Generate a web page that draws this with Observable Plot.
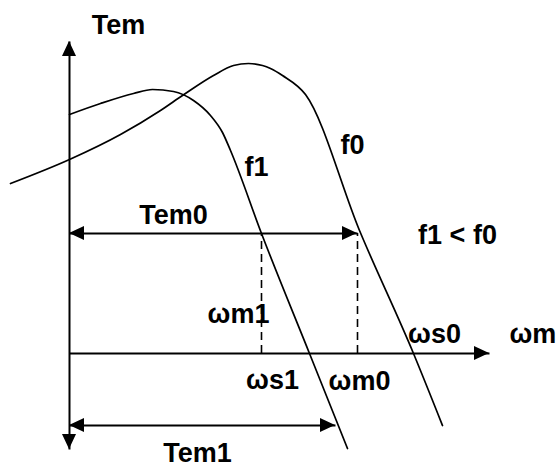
<!DOCTYPE html>
<html>
<head>
<meta charset="utf-8">
<script src="https://cdn.jsdelivr.net/npm/d3@7"></script>
<script src="https://cdn.jsdelivr.net/npm/@observablehq/plot@0.6"></script>
<style>
  html, body { margin: 0; padding: 0; background: #fff; }
  #chart svg { display: block; }
</style>
</head>
<body>
<div id="chart"></div>
<script>
// Torque–speed characteristics of an induction motor at two supply frequencies (f1 < f0).
// Speed ωm on the horizontal axis, torque Tem on the vertical axis (arbitrary units).

// Characteristic at frequency f1
const f1Omega  = [0, 7.75, 16, 20.75, 26, 31, 35.25, 38.25, 40.25, 48, 60, 69.5];
const f1Torque = [59.75, 62.5, 65, 66, 65.5, 63.25, 59.5, 55.25, 50.75, 30, 0, -23.75];

// Characteristic at frequency f0
const f0Omega  = [-14.75, 0, 12.75, 22.75, 28.25, 36, 41, 44.75, 48.25, 50.25, 53.25, 59, 72.5, 86, 93.25];
const f0Torque = [42.5, 48.5, 54.75, 60.75, 64.5, 69.5, 72, 72.5, 72, 71.25, 69.5, 64.75, 30.75, 0, -18];

// Operating quantities
const tem0 = 30;      // load torque
const tem1 = -18;     // braking torque after the frequency step
const omegaM1 = 48;   // speed on f1 at Tem0
const omegaM0 = 72;   // speed on f0 at Tem0
const tem1End = 66.5; // f1 characteristic at Tem1

// Axis extents
const omegaAxisEnd = 105;
const temAxisTop = 78;
const temAxisBottom = -24;

// Labels: text, anchor speed, anchor torque (baseline)
const labelText  = ["Tem", "Tem0", "f1", "f0", "f1 < f0", "ωm1", "ωs0", "ωs1", "ωm0", "Tem1"];
const labelOmega = [12.25, 26, 46.75, 70.75, 97, 42.25, 91.25, 50.75, 72.5, 32];
const labelTorque = [80, 32.5, 44.5, 50, 27.5, 7.75, 2.75, -8.75, -9, -27];
const axisLabel = {text: "ωm", omega: 110, torque: 2.75};

const f1 = f1Omega.map((w, i) => ({omega: w, tem: f1Torque[i]}));
const f0 = f0Omega.map((w, i) => ({omega: w, tem: f0Torque[i]}));
const labels = labelText.map((t, i) => ({text: t, omega: labelOmega[i], tem: labelTorque[i]}));

// Straight segments: axes and dimension arrows
const segments = [
  {x1: 0, y1: temAxisBottom, x2: 0, y2: temAxisTop},
  {x1: 0, y1: 0, x2: omegaAxisEnd, y2: 0},
  {x1: 0, y1: tem0, x2: omegaM0, y2: tem0},
  {x1: 0, y1: tem1, x2: tem1End, y2: tem1}
];

// Filled arrowheads (tip position and direction in degrees, 0 = right)
const heads = [
  {x: 0, y: temAxisTop, dir: -90},
  {x: 0, y: temAxisBottom, dir: 90},
  {x: omegaAxisEnd, y: 0, dir: 0},
  {x: 0, y: tem0, dir: 180},
  {x: omegaM0, y: tem0, dir: 0},
  {x: 0, y: tem1, dir: 180},
  {x: tem1End, y: tem1, dir: 0}
];

function arrowHeads(list) {
  return (index, scales) => {
    const g = d3.create("svg:g").attr("fill", "#000");
    for (const h of list) {
      g.append("path")
        .attr("d", "M0,0L-15,-7L-15,7Z")
        .attr("transform", `translate(${scales.x(h.x)},${scales.y(h.y)}) rotate(${h.dir})`);
    }
    return g.node();
  };
}

const font = "Liberation Sans, Arial, sans-serif";

const chart = Plot.plot({
  width: 557,
  height: 468,
  margin: 0,
  x: {domain: [-17.25, 122], axis: null},
  y: {domain: [-28.75, 88.25], axis: null},
  style: {background: "#fff", color: "#000", fontFamily: font},
  marks: [
    Plot.link(segments, {x1: "x1", y1: "y1", x2: "x2", y2: "y2", stroke: "#000", strokeWidth: 2}),
    Plot.ruleX([omegaM1, omegaM0], {y1: 0, y2: tem0, stroke: "#000", strokeWidth: 1.6, strokeDasharray: "8,5"}),
    Plot.line(f1, {x: "omega", y: "tem", curve: "monotone-x", stroke: "#000", strokeWidth: 1.7}),
    Plot.line(f0, {x: "omega", y: "tem", curve: "monotone-x", stroke: "#000", strokeWidth: 1.7}),
    arrowHeads(heads),
    Plot.text(labels, {x: "omega", y: "tem", text: "text", lineAnchor: "bottom",
      fontSize: 27, fontWeight: "bold", fontFamily: font, fill: "#000"}),
    Plot.text([axisLabel], {x: "omega", y: "torque", text: "text", lineAnchor: "bottom", textAnchor: "start",
      fontSize: 27, fontWeight: "bold", fontFamily: font, fill: "#000"})
  ]
});

document.getElementById("chart").appendChild(chart);
</script>
</body>
</html>
